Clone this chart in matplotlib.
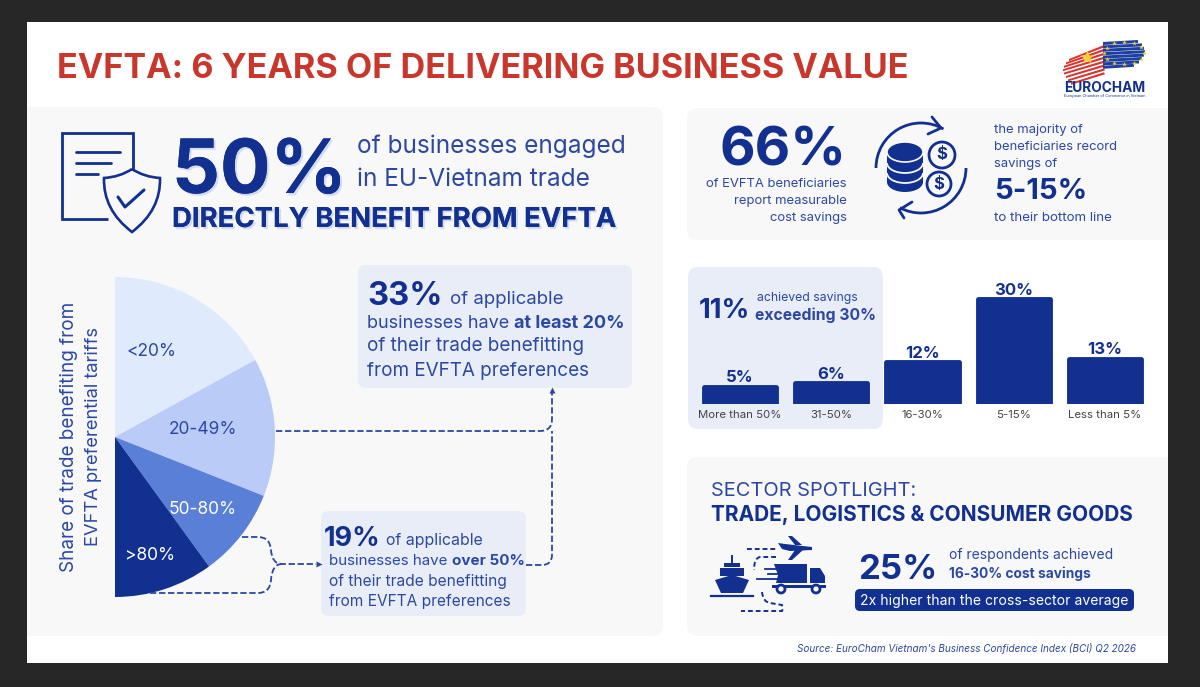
import numpy as np
import matplotlib
matplotlib.use("Agg")
import matplotlib.pyplot as plt
import matplotlib.patheffects as pe
from matplotlib.patches import FancyBboxPatch, Circle, Ellipse, Polygon, PathPatch, Rectangle, Arc
from matplotlib.path import Path

# data
share_labels = ["<20%", "20-49%", "50-80%", ">80%"]
share_values = [34, 28, 18, 20]
saving_labels = ["More than 50%", "31-50%", "16-30%", "5-15%", "Less than 5%"]
saving_values = [5, 6, 12, 30, 13]

NAVY = "#12308f"
BLUE = "#2b48a3"
RED = "#c9362c"
GREY = "#f8f8f9"
BOX = "#e9edf8"
share_colors = ["#e0eafd", "#bacbf8", "#5a7fd6", NAVY]

plt.rcParams["font.family"] = ["Inter", "Open Sans", "DejaVu Sans"]

W, H = 1200, 687
fig = plt.figure(figsize=[12, 6.87], dpi=100, facecolor="#272727")

# background axes in pixel coordinates
ax = fig.add_axes([0, 0, 1, 1], zorder=0)
ax.set_xlim(0, W)
ax.set_ylim(H, 0)
ax.axis("off")

# overlay for text, icons and connectors
ov = fig.add_axes([0, 0, 1, 1], zorder=5)
ov.set_xlim(0, W)
ov.set_ylim(H, 0)
ov.axis("off")
ov.patch.set_alpha(0)


def box(a, x0, y0, x1, y1, color, r=10, z=1):
    a.add_patch(FancyBboxPatch((x0 + r, y0 + r), x1 - x0 - 2 * r, y1 - y0 - 2 * r,
                               boxstyle="round,pad=%d,rounding_size=%d" % (r, r),
                               fc=color, ec="none", zorder=z))


def txt(x, y, s, size, color=BLUE, weight="normal", ha="left", va="baseline", **kw):
    return ov.text(x, y, s, fontsize=size, color=color, fontweight=weight, ha=ha, va=va, **kw)


def rich(x, y, parts, size, color=BLUE):
    # one line made of regular and bold pieces
    r = fig.canvas.get_renderer()
    for s, w in parts:
        t = txt(x, y, s, size, color, w)
        x += t.get_window_extent(r).width


def curve(pts, codes, color=BLUE, lw=1.3, ls=(0, (3.5, 1.5))):
    ov.add_patch(PathPatch(Path(pts, codes), fc="none", ec=color, lw=lw, ls=ls, zorder=3))


M, L, C = Path.MOVETO, Path.LINETO, Path.CURVE3

# page and panels
ax.add_patch(Rectangle((27, 22), 1141, 641, fc="white", ec="none"))
box(ax, 20, 107, 663, 636, GREY)
box(ax, 687, 108, 1190, 240, GREY)
box(ax, 687, 457, 1190, 636, GREY)
box(ax, 688, 267, 883, 429, BOX)
# crop the panels at the page edge
ax.add_patch(Rectangle((0, 0), 27, H, fc="#272727", ec="none", zorder=2))
ax.add_patch(Rectangle((1168, 0), 32, H, fc="#272727", ec="none", zorder=2))

# title
txt(57, 78, "EVFTA: 6 YEARS OF DELIVERING BUSINESS VALUE", 24.6, RED, "bold")

# logo
red_x0 = [1069, 1066, 1064, 1063, 1064, 1066, 1068, 1071]
for i, x0 in enumerate(red_x0):
    y = 52 + i * 3.4
    ov.add_patch(Polygon([[x0, y + 7], [1104, y - 7 + i * 0.5], [1105, y - 5 + i * 0.5], [x0, y + 9]],
                         fc="#d9352f", ec="none"))
blue_x1 = [1138, 1142, 1144, 1145, 1144, 1142, 1139, 1134]
for i, x1 in enumerate(blue_x1):
    y = 41 + i * 3.4
    ov.add_patch(Polygon([[1103, y + 1], [x1, y - 1], [x1, y + 2], [1103, y + 4]], fc="#1d3f9e", ec="none"))
ov.plot([1087], [57], marker="*", ms=10, color="#f7d038", mec="none", zorder=4)
for a in np.linspace(0, 2 * np.pi, 12, endpoint=False):
    ov.plot([1124 + 20 * np.cos(a)], [53 + 11 * np.sin(a)], marker="*", ms=3.5, color="#f7d038", mec="none", zorder=4)
txt(1104.5, 92, "EUROCHAM", 9.9, NAVY, "bold", ha="center")
txt(1104.5, 97, "European Chamber of Commerce in Vietnam", 2.8, NAVY, ha="center")

# document and shield icon
curve([[108, 219], [62, 219], [62, 133], [133, 133], [133, 170]], [M, L, L, L, L], NAVY, 2, "-")
for y, x1 in [(152, 120), (163, 111), (174, 98)]:
    ov.plot([76, x1], [y, y], color=NAVY, lw=2, solid_capstyle="round")
curve([[132, 169], [120, 177], [104, 178], [103, 210], [132, 232], [161, 210], [160, 178], [144, 177], [132, 169]],
      [M, C, C, C, C, C, C, C, C], NAVY, 1.9, "-")
ov.plot([118, 125, 144], [197, 207, 190], color=NAVY, lw=2.2, solid_capstyle="round")

# 50% headline
shadow = [pe.withSimplePatchShadow(offset=(1.5, -1.5), shadow_rgbFace="#8fa5e0", alpha=0.35), pe.Normal()]
txt(172, 193, "50%", 54, NAVY, "bold", path_effects=shadow)
txt(357, 153, "of businesses engaged", 17.6)
txt(357, 186, "in EU-Vietnam trade", 17.6)
txt(172, 227, "DIRECTLY BENEFIT FROM EVFTA", 19.8, NAVY, "bold", path_effects=shadow)

# half pie
cx, cy, R = 115, 437, 160
ax_pie = fig.add_axes([(cx - R) / W, 1 - (cy + R) / H, 2 * R / W, 2 * R / H], zorder=2)
ax_pie.pie(share_values + [sum(share_values)], colors=share_colors + ["none"], startangle=90,
           counterclock=False, radius=1)
ax_pie.set_xlim(-1, 1)
ax_pie.set_ylim(-1, 1)
ax_pie.patch.set_alpha(0)

share_pos = [(126, 350), (169, 428), (169, 508), (125, 553)]
share_text = [BLUE, BLUE, "white", "white"]
for s, (x, y), c in zip(share_labels, share_pos, share_text):
    txt(x, y, s, 12.5, c, va="center_baseline")

txt(69, 437, "Share of trade benefiting from", 13.6, rotation=90, ha="center", va="center")
txt(94, 436, "EVFTA preferential tariffs", 13.2, rotation=90, ha="center", va="center")

# callouts
box(ax, 358, 265, 632, 388, BOX, 8)
box(ax, 321, 511, 526, 616, BOX, 8)
txt(367, 305, "33%", 23.5, NAVY, "bold")
txt(450, 304, "of applicable", 13.4)
rich(367, 328, [("businesses have ", "normal"), ("at least 20%", "bold")], 13)
txt(367, 351, "of their trade benefitting", 13.6)
txt(367, 376, "from EVFTA preferences", 13.6)

txt(324, 546, "19%", 19.5, NAVY, "bold")
txt(386, 545, "of applicable", 11.4)
rich(329, 565, [("businesses have ", "normal"), ("over 50%", "bold")], 10.9)
txt(329, 586, "of their trade benefitting", 11.2)
txt(329, 606, "from EVFTA preferences", 11.1)

# connectors
curve([[276, 431], [540, 431], [552, 431], [552, 419], [552, 392]], [M, L, C, C, L])
curve([[526, 565], [542, 565], [552, 565], [552, 555], [552, 431]], [M, L, C, C, L])
ov.plot([552], [390], marker="^", ms=4, color=BLUE, mec="none")
curve([[242, 537], [258, 537], [270, 537], [271, 550], [272, 564], [282, 564], [316, 564]], [M, L, C, C, C, C, L])
curve([[150, 593], [258, 593], [270, 593], [271, 580], [272, 564], [282, 564]], [M, L, C, C, C, C])
ov.plot([319], [564], marker=">", ms=4, color=BLUE, mec="none")

# 66% panel
txt(847, 166, "66%", 39.5, NAVY, "bold", ha="right")
txt(847, 187, "of EVFTA beneficiaries", 9.4, ha="right")
txt(847, 204, "report measurable", 9.4, ha="right")
txt(847, 221, "cost savings", 9.4, ha="right")

# coins icon
ov.add_patch(Ellipse((905, 182), 36, 20, fc=NAVY, ec="none", zorder=2))
ov.add_patch(Rectangle((887, 152), 36, 30, fc=NAVY, ec="none", zorder=2))
for y in [163, 173]:
    ov.add_patch(Arc((905, y), 36, 20, theta1=0, theta2=180, ec=GREY, lw=1.3, zorder=3))
ov.add_patch(Ellipse((905, 152), 36, 20, fc=NAVY, ec=GREY, lw=1.2, zorder=4))
for x, y, r in [(942, 155, 13), (939, 184, 12)]:
    ov.add_patch(Circle((x, y), r, fc=GREY, ec=NAVY, lw=2))
    txt(x, y, "$", 12, NAVY, "bold", ha="center", va="center")
ov.add_patch(Arc((921, 168), 90, 90, theta1=180, theta2=300, ec=NAVY, lw=2))
ov.add_patch(Arc((921, 168), 90, 90, theta1=0, theta2=118, ec=NAVY, lw=2))
ov.plot([932, 941, 928], [117, 128, 134], color=NAVY, lw=2, solid_capstyle="round")
ov.plot([912, 899, 904], [202, 210, 218], color=NAVY, lw=2, solid_capstyle="round")

txt(994, 133, "the majority of", 9.4)
txt(994, 150, "beneficiaries record", 9.4)
txt(994, 167, "savings of", 9.4)
txt(994, 199, "5-15%", 21, NAVY, "bold")
txt(994, 221, "to their bottom line", 9.6)

# savings bars
pitch = 91.25
ax_bar = fig.add_axes([694.4 / W, 1 - 404 / H, 5 * pitch / W, 128.5 / H], zorder=2)
bars = ax_bar.bar(range(len(saving_values)), saving_values, width=0.79, color=NAVY, edgecolor=NAVY,
                  linewidth=3.5, joinstyle="round")
ax_bar.set_xlim(-0.5, 4.5)
ax_bar.set_ylim(0, 36.8)
ax_bar.patch.set_alpha(0)
for s in ax_bar.spines.values():
    s.set_visible(False)
ax_bar.set_yticks([])
ax_bar.set_xticks(range(len(saving_labels)), saving_labels, fontsize=8.2, color="#444444")
ax_bar.tick_params(axis="x", length=0, pad=4)
ax_bar.bar_label(bars, fmt="%d%%", padding=1, fontsize=12, color=NAVY, fontweight="bold")

txt(699, 318, "11%", 19.8, NAVY, "bold")
txt(757, 301, "achieved savings", 8.8)
txt(755, 320, "exceeding 30%", 11.3, BLUE, "bold")

# sector spotlight
txt(711, 496, "SECTOR SPOTLIGHT:", 14.4)
txt(711, 521, "TRADE, LOGISTICS & CONSUMER GOODS", 15, NAVY, "bold")
txt(858, 579, "25%", 25, NAVY, "bold")
txt(949, 559, "of respondents achieved", 10)
txt(949, 578, "16-30% cost savings", 9.9, BLUE, "bold")
box(ov, 855, 589, 1134, 611, NAVY, 5, 2)
txt(994.5, 600.5, "2x higher than the cross-sector average", 10.1, "white", ha="center", va="center", zorder=4)

# ship
ov.add_patch(Polygon([[715, 580], [732, 575], [749, 580], [743, 593], [721, 593]], fc=NAVY, ec="none"))
ov.add_patch(Rectangle((720, 568), 24, 8, fc=NAVY, ec="none"))
ov.add_patch(Rectangle((724, 563), 16, 3.5, fc=NAVY, ec="none"))
ov.plot([732, 732], [556, 563], color=NAVY, lw=1.4)
ov.plot([711, 753], [596, 596], color=NAVY, lw=1.6)
# plane
ov.add_patch(Polygon([[778, 543], [785, 544], [812, 547], [812, 550], [790, 551], [782, 549]], fc=NAVY, ec="none"))
ov.add_patch(Polygon([[788, 536], [792, 536], [802, 545], [795, 545]], fc=NAVY, ec="none"))
ov.add_patch(Polygon([[795, 550], [803, 550], [792, 560], [788, 560]], fc=NAVY, ec="none"))
# truck
ov.add_patch(Polygon([[774, 564], [807, 564], [807, 583], [776, 583], [778, 575]], fc=NAVY, ec="none"))
ov.add_patch(Polygon([[810, 568], [820, 568], [825, 576], [825, 583], [810, 583]], fc=NAVY, ec="none"))
ov.add_patch(Rectangle((772, 585), 54, 3, fc=NAVY, ec="none"))
for x in [781, 816]:
    ov.add_patch(Circle((x, 589), 4, fc=GREY, ec=NAVY, lw=2, zorder=4))
for x0, x1, y in [(765, 788, 569), (768, 785, 574), (757, 782, 579)]:
    ov.plot([x0, x1], [y, y], color=NAVY, lw=1.3)
# dashed routes
curve([[747, 549], [776, 549]], [M, L], NAVY, 1.4, (0, (2.5, 1.5)))
curve([[776, 557], [760, 557], [754, 558], [754, 570]], [M, L, C, C], NAVY, 1.4, (0, (2.5, 1.5)))
curve([[762, 592], [763, 602], [770, 603], [782, 605], [783, 610], [782, 611], [741, 611]],
      [M, C, C, L, C, C, L], NAVY, 1.4, (0, (2.5, 1.5)))

# source
txt(1136, 652, "Source: EuroCham Vietnam's Business Confidence Index (BCI) Q2 2026", 7.15, BLUE, ha="right", style="italic")

plt.savefig("out.png", dpi=100, facecolor=fig.get_facecolor())
plt.close()
